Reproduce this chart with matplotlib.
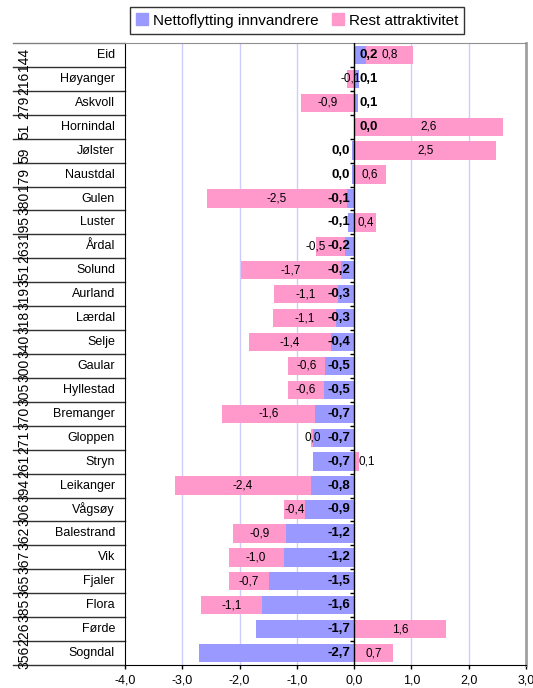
import numpy as np
import matplotlib
matplotlib.use('Agg')
import matplotlib.pyplot as plt
from matplotlib.lines import Line2D
from matplotlib.patches import Patch
from matplotlib.transforms import blended_transform_factory

plt.rcParams['font.family'] = ['Liberation Sans', 'DejaVu Sans']

# Kommunar, ovanfrå og ned
kommunar = ['Eid', 'Høyanger', 'Askvoll', 'Hornindal', 'Jølster', 'Naustdal',
            'Gulen', 'Luster', 'Årdal', 'Solund', 'Aurland', 'Lærdal', 'Selje',
            'Gaular', 'Hyllestad', 'Bremanger', 'Gloppen', 'Stryn', 'Leikanger',
            'Vågsøy', 'Balestrand', 'Vik', 'Fjaler', 'Flora', 'Førde', 'Sogndal']
nummer = ['144', '216', '279', '51', '59', '179', '380', '195', '263', '351',
          '319', '318', '340', '300', '305', '370', '271', '261', '394', '306',
          '362', '367', '365', '385', '226', '356']
innvandrere = [0.21, 0.09, 0.07, 0.01, -0.04, -0.04, -0.12, -0.10, -0.16, -0.23,
               -0.28, -0.32, -0.40, -0.51, -0.53, -0.68, -0.71, -0.72, -0.76,
               -0.86, -1.19, -1.23, -1.49, -1.61, -1.72, -2.70]
rest = [0.81, -0.12, -0.92, 2.58, 2.48, 0.56, -2.45, 0.39, -0.50, -1.74,
        -1.12, -1.09, -1.44, -0.64, -0.63, -1.62, -0.04, 0.09, -2.37, -0.37,
        -0.93, -0.96, -0.70, -1.07, 1.60, 0.67]

BLAA = '#9999ff'
ROSA = '#ff99cc'


def fmt(v):
    s = f"{v:.1f}".replace('.', ',')
    if s == '-0,0':
        s = '0,0'
    return s


def plot_chart():
    n = len(kommunar)
    y = np.arange(n) + 0.5
    blue = np.array(innvandrere)
    pink = np.array(rest)
    pink_left = np.where(pink >= 0, np.maximum(blue, 0), np.minimum(blue, 0))

    fig = plt.figure(figsize=(5.33, 6.88), dpi=100)
    ax = fig.add_axes([125 / 533, 1 - 665 / 688, 401 / 533, 622 / 688])

    for g in [-3, -2, -1, 1, 2]:
        ax.axvline(g, color='#ccccff', lw=1, zorder=0)

    ax.barh(y, blue, height=0.77, color=BLAA, zorder=2)
    ax.barh(y, pink, left=pink_left, height=0.77, color=ROSA, zorder=2)

    ax.axvline(0, color='black', lw=1, zorder=3)
    ax.hlines(np.arange(1, n), -0.07, 0, color='black', lw=1, zorder=3)

    ax.set_xlim(-4, 3)
    ax.set_ylim(n, 0)
    ticks = np.arange(-4, 3.1, 1.0)
    ax.set_xticks(ticks)
    ax.set_xticklabels([fmt(t) for t in ticks], fontsize=9)
    ax.tick_params(axis='x', direction='out', length=3, width=1, pad=4)
    ax.set_yticks([])

    ax.spines['top'].set_color('#909090')
    ax.spines['right'].set_color('#a0a0a0')
    ax.spines['right'].set_linewidth(2)
    ax.spines['left'].set_color('black')
    ax.spines['bottom'].set_color('black')

    # etikettar
    for yi, b, p, pl in zip(y, blue, pink, pink_left):
        if b > 0 or fmt(b) == '0,0' and b >= 0:
            ax.annotate(fmt(b), (0, yi), xytext=(4, 0), textcoords='offset points',
                        ha='left', va='center', fontsize=9.5, fontweight='bold', zorder=4)
        else:
            ax.annotate(fmt(b), (0, yi), xytext=(-3, 0), textcoords='offset points',
                        ha='right', va='center', fontsize=9.5, fontweight='bold', zorder=4)

        cx = pl + p / 2
        if p > 0 and p < 0.2:
            ax.annotate(fmt(p), (pl, yi), xytext=(3, 0), textcoords='offset points',
                        ha='left', va='center', fontsize=8.5, zorder=4)
        elif p < 0 and b < 0 and cx > -0.7:
            ax.text(-0.5, yi, fmt(p), ha='right', va='center', fontsize=8.5, zorder=4)
        else:
            ax.text(cx, yi, fmt(p), ha='center', va='center', fontsize=8.5, zorder=4)

    # tabell til venstre
    tr = blended_transform_factory(ax.transAxes, ax.transData)
    x0 = (13 - 125) / 401
    for k in range(n + 1):
        col = '#808080' if k == 0 else '#303030'
        ax.add_line(Line2D([x0, 0], [k, k], transform=tr, color=col, lw=1, clip_on=False))
    for yi, namn, nr in zip(y, kommunar, nummer):
        ax.text((115 - 125) / 401, yi, namn, transform=tr, ha='right', va='center',
                fontsize=9, clip_on=False)
        ax.text((24 - 125) / 401, yi + 0.2, nr, transform=tr, ha='center', va='center',
                rotation=90, fontsize=10, clip_on=False)

    handles = [Patch(color=BLAA, label='Nettoflytting innvandrere'),
               Patch(color=ROSA, label='Rest attraktivitet')]
    leg = fig.legend(handles=handles, loc='center', ncol=2,
                     bbox_to_anchor=(297 / 533, 1 - 20.5 / 688), fontsize=11,
                     frameon=True, fancybox=False, edgecolor='black',
                     handlelength=0.8, handleheight=0.8, handletextpad=0.3,
                     columnspacing=0.9, borderpad=0.4)
    leg.get_frame().set_linewidth(1)

    fig.savefig('out.png', dpi=100)


if __name__ == "__main__":
    plot_chart()
